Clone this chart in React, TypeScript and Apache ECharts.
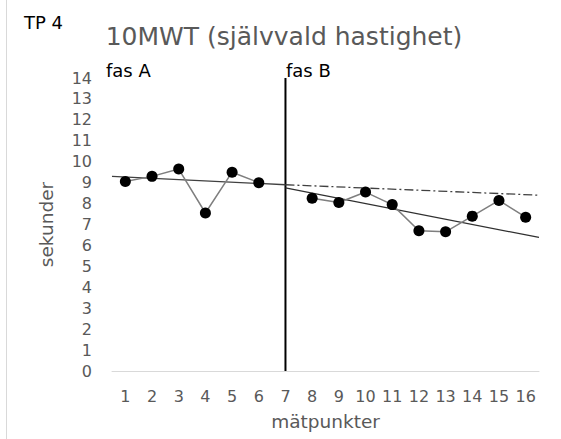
import React, { useEffect, useRef } from "react";
import * as echarts from "echarts";

const categories = ["1", "2", "3", "4", "5", "6", "7", "8", "9", "10", "11", "12", "13", "14", "15", "16"];

// Phase A measurements (mätpunkt, sekunder)
const phaseAX = [1, 2, 3, 4, 5, 6];
const phaseAY = [9.05, 9.3, 9.65, 7.55, 9.5, 9.0];

// Phase B measurements
const phaseBX = [8, 9, 10, 11, 12, 13, 14, 15, 16];
const phaseBY = [8.25, 8.05, 8.55, 7.95, 6.7, 6.65, 7.4, 8.15, 7.35];

// Trend line for phase A and its projection into phase B
const trendAX = [0.5, 7];
const trendAY = [9.3, 8.9];
const projX = [7, 16.5];
const projY = [8.9, 8.4];

// Trend line for phase B
const trendBX = [7, 16.5];
const trendBY = [8.75, 6.38];

// Phase change marker
const phaseChangeX = 7;
const yMin = 0;
const yMax = 14;

const FONT = "'DejaVu Sans', sans-serif";
const GREY = "#595959";

const pairs = (xs: number[], ys: number[]) => xs.map((x, i) => [x, ys[i]]);

export default function App() {
  const ref = useRef<HTMLDivElement>(null);

  useEffect(() => {
    document.body.style.margin = "0";
    const chart = echarts.init(ref.current!, null, { renderer: "svg" });
    chart.setOption({
      animation: false,
      backgroundColor: "#ffffff",
      textStyle: { fontFamily: FONT },
      grid: { left: 112, right: 22, top: 78, bottom: 68 },
      xAxis: [
        {
          type: "category",
          data: categories,
          boundaryGap: true,
          name: "mätpunkter",
          nameLocation: "middle",
          nameGap: 41,
          nameTextStyle: { color: GREY, fontSize: 18.5, fontFamily: FONT },
          axisLine: { lineStyle: { color: "#d9d9d9", width: 1 } },
          axisTick: { show: false },
          axisLabel: {
            color: GREY,
            fontSize: 16,
            margin: 17,
            interval: 0,
            hideOverlap: false,
            fontFamily: FONT,
          },
        },
        {
          type: "value",
          min: 0.5,
          max: 16.5,
          show: false,
        },
      ],
      yAxis: {
        type: "value",
        min: yMin,
        max: yMax,
        interval: 1,
        name: "sekunder",
        nameLocation: "middle",
        nameGap: 56,
        nameTextStyle: { color: GREY, fontSize: 18.5, fontFamily: FONT },
        axisLine: { show: false },
        axisTick: { show: false },
        splitLine: { show: false },
        axisLabel: { color: GREY, fontSize: 16, margin: 20, fontFamily: FONT },
      },
      series: [
        {
          type: "line",
          xAxisIndex: 1,
          data: [
            [phaseChangeX, yMin],
            [phaseChangeX, yMax],
          ],
          symbol: "none",
          lineStyle: { color: "#000000", width: 2 },
          z: 1,
        },
        {
          type: "line",
          xAxisIndex: 1,
          data: pairs(trendAX, trendAY),
          symbol: "none",
          lineStyle: { color: "#404040", width: 1.3 },
          z: 2,
        },
        {
          type: "line",
          xAxisIndex: 1,
          data: pairs(projX, projY),
          symbol: "none",
          lineStyle: { color: "#404040", width: 1.3, type: [9, 3, 2, 3] },
          z: 2,
        },
        {
          type: "line",
          xAxisIndex: 1,
          data: pairs(trendBX, trendBY),
          symbol: "none",
          lineStyle: { color: "#303030", width: 1.3 },
          z: 2,
        },
        {
          type: "line",
          xAxisIndex: 1,
          data: pairs(phaseAX, phaseAY),
          symbol: "circle",
          symbolSize: 11,
          itemStyle: { color: "#000000" },
          lineStyle: { color: "#7f7f7f", width: 1.5 },
          z: 3,
        },
        {
          type: "line",
          xAxisIndex: 1,
          data: pairs(phaseBX, phaseBY),
          symbol: "circle",
          symbolSize: 11,
          itemStyle: { color: "#000000" },
          lineStyle: { color: "#7f7f7f", width: 1.5 },
          z: 3,
        },
      ],
      graphic: [
        {
          type: "line",
          shape: { x1: 6.5, y1: 0, x2: 6.5, y2: 439 },
          style: { stroke: "#d9d9d9", lineWidth: 1 },
        },
        {
          type: "text",
          x: 24,
          y: 22,
          style: { text: "TP 4", fill: "#000000", font: `18px ${FONT}`, verticalAlign: "middle" },
        },
        {
          type: "text",
          x: 284,
          y: 36,
          style: {
            text: "10MWT (självvald hastighet)",
            fill: GREY,
            font: `25px ${FONT}`,
            align: "center",
            verticalAlign: "middle",
          },
        },
        {
          type: "text",
          x: 106,
          y: 70,
          style: { text: "fas A", fill: "#000000", font: `18px ${FONT}`, verticalAlign: "middle" },
        },
        {
          type: "text",
          x: 286,
          y: 70,
          style: { text: "fas B", fill: "#000000", font: `18px ${FONT}`, verticalAlign: "middle" },
        },
      ],
    });
    return () => chart.dispose();
  }, []);

  return <div ref={ref} style={{ width: 561, height: 439 }} />;
}
